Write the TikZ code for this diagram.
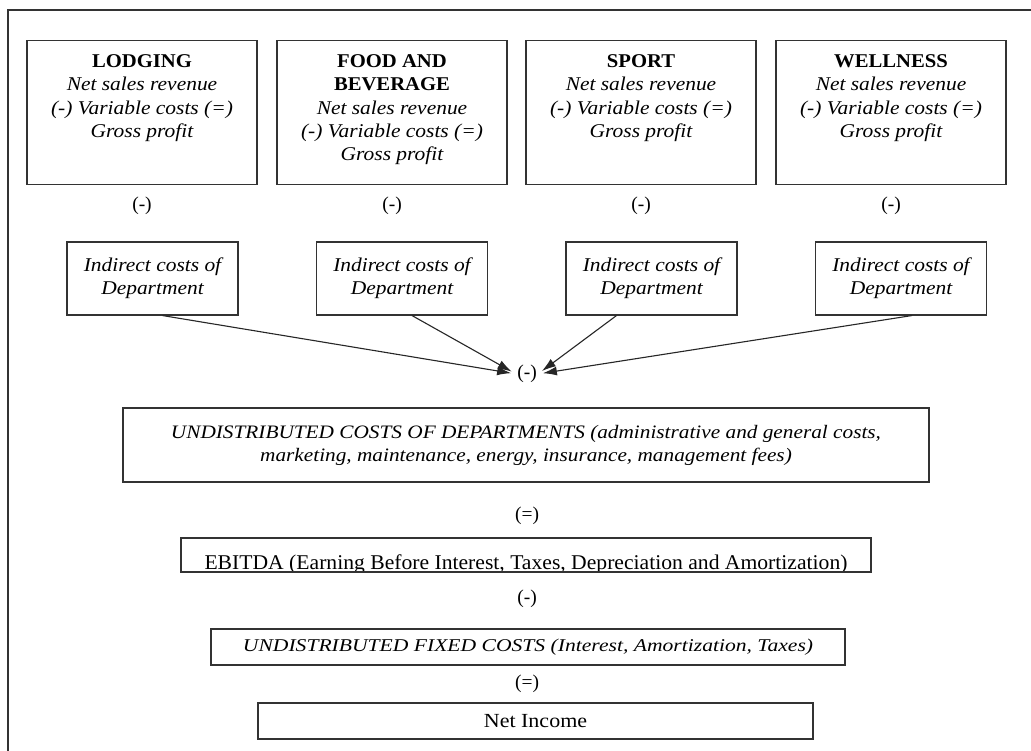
\documentclass[tikz,border=0pt]{standalone}
\usepackage{fontspec}
\usepackage{graphicx}
\setmainfont{Liberation Serif}
\usetikzlibrary{arrows.meta,calc}
\newcommand{\wi}[2][1.1]{\scalebox{#1}[1]{\itshape #2}}
\newcommand{\wb}[1]{\scalebox{1.06}[1]{\bfseries #1}}
\begin{document}
\begin{tikzpicture}[x=1pt,y=-1pt,
  frame/.style={draw=black!80,line width=1.1pt},
  topbox/.style={frame,inner sep=0pt,minimum width=230pt,minimum height=144pt,anchor=north},
  indbox/.style={frame,inner sep=0pt,minimum width=171pt,minimum height=73pt,align=center,
    font=\fontsize{19.5}{23}\selectfont},
  widebox/.style={frame,inner sep=0pt,align=center},
  op/.style={inner sep=1pt,font=\fontsize{19.5}{22}\selectfont},
  arr/.style={draw=black!85,line width=1.1pt,shorten >=5pt,-{Latex[length=14pt,width=9pt]}}
]
\useasboundingbox (0,0) rectangle (1031,751);
\fill[white] (0,0) rectangle (1031,751);
\draw[black!80,line width=1.3pt] (8,751) -- (8,10) -- (1031,10);

\newcommand{\topcontent}[1]{\parbox[c][144pt][t]{226pt}{\centering\fontsize{19.5}{23.3}\selectfont #1}}

\node[topbox] (lod) at (142,40) {\topcontent{\rule{0pt}{27pt}\wb{LODGING}\\ \wi{Net sales revenue}\\ \wi{(-) Variable costs (=)}\\ \wi{Gross profit}}};
\node[topbox] (fab) at (392,40) {\topcontent{\rule{0pt}{27pt}\wb{FOOD AND}\\ \wb{BEVERAGE}\\ \wi{Net sales revenue}\\ \wi{(-) Variable costs (=)}\\ \wi{Gross profit}}};
\node[topbox] (spo) at (641,40) {\topcontent{\rule{0pt}{27pt}\wb{SPORT}\\ \wi{Net sales revenue}\\ \wi{(-) Variable costs (=)}\\ \wi{Gross profit}}};
\node[topbox] (wel) at (891,40) {\topcontent{\rule{0pt}{27pt}\wb{WELLNESS}\\ \wi{Net sales revenue}\\ \wi{(-) Variable costs (=)}\\ \wi{Gross profit}}};

\node[op] (m1) at (142,206) {(-)};
\node[op] (m2) at (392,206) {(-)};
\node[op] (m3) at (641,206) {(-)};
\node[op] (m4) at (891,206) {(-)};

\node[indbox] (ic1) at (152.5,278.5) {\wi{Indirect costs of}\\\wi{Department}};
\node[indbox] (ic2) at (402,278.5) {\wi{Indirect costs of}\\\wi{Department}};
\node[indbox] (ic3) at (651.5,278.5) {\wi{Indirect costs of}\\\wi{Department}};
\node[indbox] (ic4) at (901,278.5) {\wi{Indirect costs of}\\\wi{Department}};

\node[op] (mc) at (527,374) {(-)};
\draw[arr] ($(ic1.south)+(10,0)$) -- (mc.west);
\draw[arr] ($(ic2.south)+(10,0)$) -- (mc.west);
\draw[arr] ($(ic3.south)+(-35,0)$) -- (mc.east);
\draw[arr] ($(ic4.south)+(11,0)$) -- (mc.east);

\node[widebox,minimum width=806pt,minimum height=74pt,font=\fontsize{19}{23}\selectfont] (ud) at (526,445)
  {\wi[1.12]{UNDISTRIBUTED COSTS OF DEPARTMENTS (administrative and general costs,}\\ \wi[1.12]{marketing, maintenance, energy, insurance, management fees)}};

\node[op] (eq1) at (527,516) {(=)};

\begin{scope}
\clip (181,538) rectangle (871,572);
\node[inner sep=0pt,anchor=base,font=\fontsize{21}{24}\selectfont] (ebt) at (526,569)
  {\scalebox{1.03}[1]{EBITDA (Earning Before Interest, Taxes, Depreciation and Amortization)}};
\end{scope}
\node[widebox,minimum width=690pt,minimum height=34pt] (eb) at (526,555) {};

\node[op] (m5) at (527,599) {(-)};

\node[widebox,minimum width=634pt,minimum height=36pt,font=\fontsize{18}{22}\selectfont] (uf) at (528,647)
  {\wi[1.2]{UNDISTRIBUTED FIXED COSTS (Interest, Amortization, Taxes)}};

\node[op] (eq2) at (527,684) {(=)};

\node[widebox,minimum width=555pt,minimum height=36pt,font=\fontsize{20}{22}\selectfont] (ni) at (535.5,721)
  {\scalebox{1.1}[1]{Net Income}};
\end{tikzpicture}
\end{document}
